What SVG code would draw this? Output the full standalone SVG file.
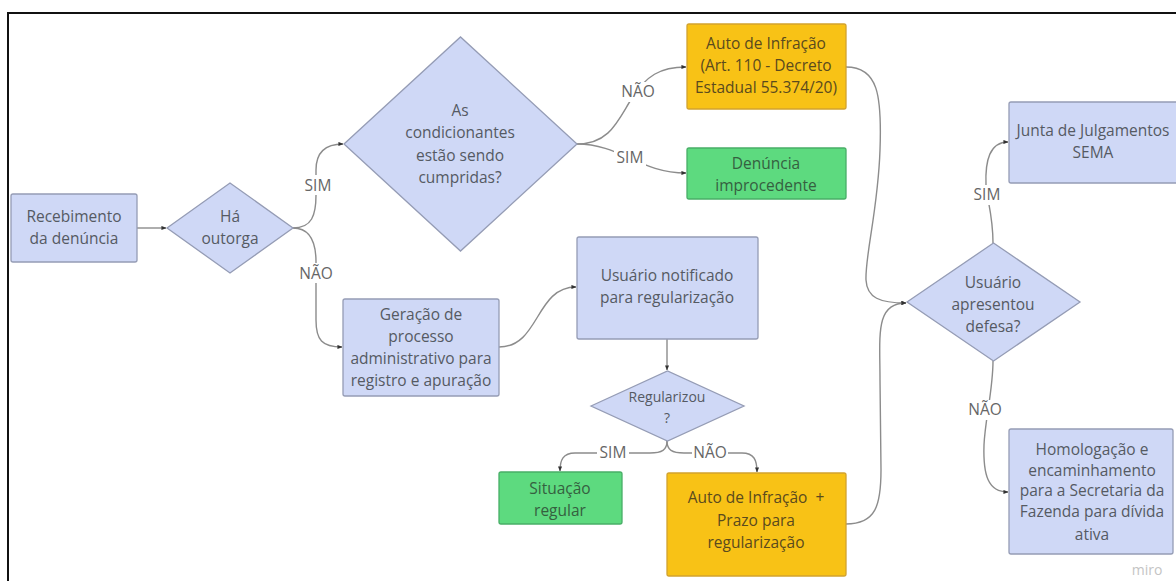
<svg xmlns="http://www.w3.org/2000/svg" width="1176" height="581" viewBox="0 0 1176 581">
<defs>
<style>
.b{fill:#CFD8F6;stroke:#959CB5;stroke-width:1.3}
.y{fill:#F8C216;stroke:#D2A22E;stroke-width:1.3}
.g{fill:#5DDA7F;stroke:#48AE67;stroke-width:1.3}
.t{font-family:"Open Sans","Liberation Sans",sans-serif;font-size:15.5px;fill:#555a63;text-anchor:middle}
.ty{font-family:"Open Sans","Liberation Sans",sans-serif;font-size:15.5px;fill:#5a4a1e;text-anchor:middle}
.tg{font-family:"Open Sans","Liberation Sans",sans-serif;font-size:15.5px;fill:#35603f;text-anchor:middle}
.s{font-size:14px}
.c{fill:none;stroke:#8c8c8c;stroke-width:1.4}
.l{font-family:"Open Sans","Liberation Sans",sans-serif;font-size:15.5px;fill:#666;text-anchor:middle}
.lb{fill:#fff}
</style>
<marker id="a" viewBox="0 0 6 6" refX="5.5" refY="3" markerWidth="5" markerHeight="5" markerUnits="userSpaceOnUse" orient="auto">
<path d="M0,0.5 L6,3 L0,5.5 Z" fill="#333"/>
</marker>
</defs>
<rect x="0" y="0" width="1176" height="581" fill="#fff"/>
<path d="M8,581 L8,13 L1176,13" fill="none" stroke="#111" stroke-width="2"/>

<g id="connectors">
<path class="c" marker-end="url(#a)" d="M137,228 L166,228"/>
<path class="c" marker-end="url(#a)" d="M293,228 C312,228 316,215 316,195 L316,170 C316,152 325,144 343,144"/>
<path class="c" marker-end="url(#a)" d="M293,228 C312,228 316,245 316,262 L316,320 C316,340 322,347 342,347"/>
<path class="c" marker-end="url(#a)" d="M577,144 C610,144 618,120 632,98 C646,76 660,67 686,67"/>
<path class="c" marker-end="url(#a)" d="M577,144 C620,144 640,173 686,173"/>
<path class="c" marker-end="url(#a)" d="M499,347 C540,347 535,287 576,287"/>
<path class="c" marker-end="url(#a)" d="M667,339 L667,370"/>
<path class="c" marker-end="url(#a)" d="M667,441 C667,450 662,453 650,453 L575,453 C563,453 560,460 560,471"/>
<path class="c" marker-end="url(#a)" d="M667,441 C667,450 672,453 684,453 L742,453 C754,453 757,460 757,472"/>
<path class="c" marker-end="url(#a)" d="M846,67 C878,67 882,95 880,150 C878,210 865,255 866,280 C867,298 880,303 906,303"/>
<path class="c" marker-end="url(#a)" d="M846,524 C876,524 881,505 881,470 L880,380 C880,335 875,303 906,303"/>
<path class="c" marker-end="url(#a)" d="M993,243 C993,215 987,200 986,185 C985,160 990,142 1008,142"/>
<path class="c" marker-end="url(#a)" d="M993,361 C993,390 985,420 984,445 C983,475 988,492 1008,492"/>
<rect class="lb" x="302" y="175" width="32" height="20"/>
<text class="l" x="318" y="191">SIM</text>
<rect class="lb" x="298" y="263" width="36" height="20"/>
<text class="l" x="316" y="279">NÃO</text>
<rect class="lb" x="620" y="82" width="36" height="20"/>
<text class="l" x="638" y="97">NÃO</text>
<rect class="lb" x="614" y="148" width="32" height="20"/>
<text class="l" x="630" y="163">SIM</text>
<rect class="lb" x="597" y="443" width="32" height="20"/>
<text class="l" x="613" y="458">SIM</text>
<rect class="lb" x="692" y="443" width="36" height="20"/>
<text class="l" x="710" y="458">NÃO</text>
<rect class="lb" x="971" y="185" width="32" height="20"/>
<text class="l" x="987" y="200">SIM</text>
<rect class="lb" x="967" y="400" width="36" height="20"/>
<text class="l" x="985" y="415">NÃO</text>
</g>

<g id="recebimento">
<rect class="b" x="11" y="194" width="126" height="68" rx="2"/>
<text class="t" x="74" y="222">Recebimento</text>
<text class="t" x="74" y="244">da denúncia</text>
</g>

<g id="ha-outorga">
<polygon class="b" points="167,228 230,183 293,228 230,273"/>
<text class="t" x="230" y="222">Há</text>
<text class="t" x="230" y="244">outorga</text>
</g>

<g id="condicionantes">
<polygon class="b" points="344,144 460.5,37 577,144 460.5,251"/>
<text class="t" x="460" y="116">As</text>
<text class="t" x="460" y="138">condicionantes</text>
<text class="t" x="460" y="161">estão sendo</text>
<text class="t" x="460" y="183">cumpridas?</text>
</g>

<g id="auto-infracao">
<rect class="y" x="687" y="24" width="159" height="85" rx="2"/>
<text class="ty" x="766" y="49">Auto de Infração</text>
<text class="ty" x="766" y="71">(Art. 110 - Decreto</text>
<text class="ty" x="766" y="93">Estadual 55.374/20)</text>
</g>

<g id="denuncia-improcedente">
<rect class="g" x="687" y="148" width="159" height="51" rx="2"/>
<text class="tg" x="766" y="169">Denúncia</text>
<text class="tg" x="766" y="191">improcedente</text>
</g>

<g id="geracao">
<rect class="b" x="343" y="299" width="156" height="97" rx="2"/>
<text class="t" x="421" y="320">Geração de</text>
<text class="t" x="421" y="342">processo</text>
<text class="t" x="421" y="364">administrativo para</text>
<text class="t" x="421" y="386">registro e apuração</text>
</g>

<g id="usuario-notificado">
<rect class="b" x="577" y="237" width="181" height="102" rx="2"/>
<text class="t" x="667" y="281">Usuário notificado</text>
<text class="t" x="667" y="303">para regularização</text>
</g>

<g id="regularizou">
<polygon class="b" points="591,406 667.5,371 744,406 667.5,441"/>
<text class="t s" x="667" y="402">Regularizou</text>
<text class="t s" x="667" y="423">?</text>
</g>

<g id="situacao-regular">
<rect class="g" x="499" y="472" width="123" height="52" rx="2"/>
<text class="tg" x="560" y="494">Situação</text>
<text class="tg" x="560" y="516">regular</text>
</g>

<g id="auto-prazo">
<rect class="y" x="667" y="473" width="179" height="103" rx="2"/>
<text class="ty" x="756" y="503" xml:space="preserve">Auto de Infração  +</text>
<text class="ty" x="756" y="526">Prazo para</text>
<text class="ty" x="756" y="548">regularização</text>
</g>

<g id="apresentou-defesa">
<polygon class="b" points="907,302 993.5,243 1080,302 993.5,361"/>
<text class="t" x="993" y="288">Usuário</text>
<text class="t" x="993" y="310">apresentou</text>
<text class="t" x="993" y="332">defesa?</text>
</g>

<g id="junta">
<rect class="b" x="1009" y="102" width="180" height="81" rx="2"/>
<text class="t" x="1093" y="136">Junta de Julgamentos</text>
<text class="t" x="1093" y="158">SEMA</text>
</g>

<g id="homologacao">
<rect class="b" x="1009" y="429" width="164" height="125" rx="2"/>
<text class="t" x="1092" y="455">Homologação e</text>
<text class="t" x="1092" y="476">encaminhamento</text>
<text class="t" x="1092" y="496">para a Secretaria da</text>
<text class="t" x="1092" y="517">Fazenda para dívida</text>
<text class="t" x="1092" y="540">ativa</text>
</g>

<text x="1147" y="575" font-family="'Open Sans','Liberation Sans',sans-serif" font-size="14" fill="#c4c4c4" text-anchor="middle">miro</text>
</svg>
